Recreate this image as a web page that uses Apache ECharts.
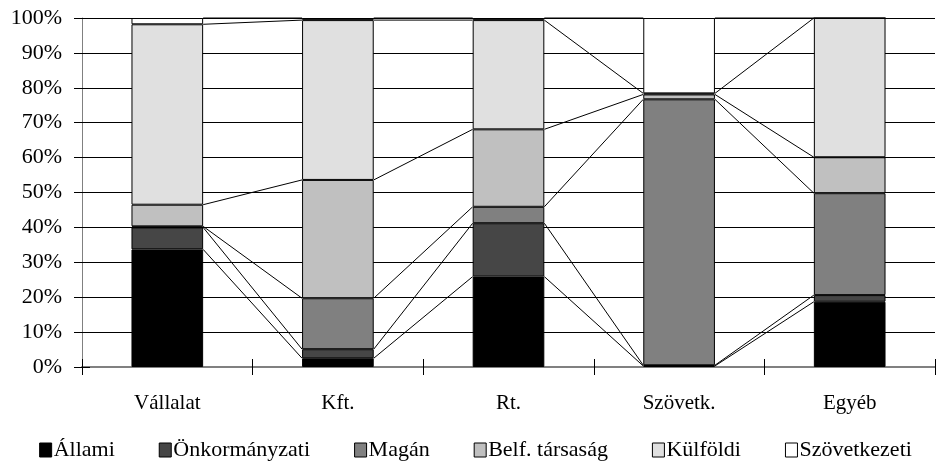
<!DOCTYPE html>
<html>
<head>
<meta charset="utf-8">
<script src="https://cdn.jsdelivr.net/npm/echarts@6/dist/echarts.min.js"></script>
<style>html,body{margin:0;padding:0;background:#fff}#c{width:951px;height:470px}</style>
</head>
<body>
<div id="c"></div>
<script>
var categories = ['Vállalat', 'Kft.', 'Rt.', 'Szövetk.', 'Egyéb'];
var seriesNames = ['Állami', 'Önkormányzati', 'Magán', 'Belf. társaság', 'Külföldi', 'Szövetkezeti'];
var allami = [33.7, 2.5, 25.9, 0.3, 18.7];
var onkormanyzati = [6.3, 2.6, 15.3, 0.2, 1.9];
var magan = [0.3, 14.6, 4.7, 76.2, 29.2];
var belf = [6.2, 33.9, 22.2, 1.4, 10.3];
var kulfoldi = [51.7, 45.8, 31.3, 0.3, 39.9];
var szovetkezeti = [1.8, 0.6, 0.6, 21.6, 0.0];
var yTicks = [0, 10, 20, 30, 40, 50, 60, 70, 80, 90, 100];
var colors = ['#000000', '#464646', '#808080', '#c0c0c0', '#e0e0e0', '#ffffff'];

var allSeries = [allami, onkormanyzati, magan, belf, kulfoldi, szovetkezeti];
var FONT = 'Liberation Serif';
var BAR_RATIO = 0.42;

// cumulative tops
var cum = allSeries.map(function () { return []; });
for (var c = 0; c < categories.length; c++) {
  var s = 0;
  for (var k = 0; k < allSeries.length; k++) {
    s += allSeries[k][c];
    cum[k][c] = s;
  }
}
var lineData = [];
for (var k = 0; k < allSeries.length; k++) {
  for (var c = 0; c < categories.length - 1; c++) {
    lineData.push([c, cum[k][c], cum[k][c + 1]]);
  }
}

var series = allSeries.map(function (arr, i) {
  return {
    name: seriesNames[i],
    type: 'bar',
    stack: 'total',
    barWidth: (BAR_RATIO * 100) + '%',
    data: arr,
    itemStyle: { color: colors[i], borderColor: '#000', borderWidth: 1 },
    emphasis: { disabled: true },
    z: 2
  };
});
series.push({
  type: 'custom',
  name: 'serieslines',
  data: lineData,
  z: 3,
  silent: true,
  renderItem: function (params, api) {
    var i = api.value(0);
    var p1 = api.coord([i, api.value(1)]);
    var p2 = api.coord([i + 1, api.value(2)]);
    var half = api.size([1, 0])[0] * BAR_RATIO / 2;
    return {
      type: 'line',
      shape: { x1: p1[0] + half, y1: p1[1], x2: p2[0] - half, y2: p2[1] },
      style: { stroke: '#000', lineWidth: 1 }
    };
  }
});

var chart = echarts.init(document.getElementById('c'), null, { renderer: 'canvas' });
chart.setOption({
  animation: false,
  backgroundColor: '#fff',
  grid: { left: 82, right: 16, top: 18, bottom: 103 },
  legend: {
    data: seriesNames,
    bottom: 4,
    left: 'center',
    icon: 'rect',
    itemWidth: 12,
    itemHeight: 14,
    itemGap: 44,
    itemStyle: { borderColor: '#000', borderWidth: 1 },
    textStyle: { fontFamily: FONT, fontSize: 22, color: '#000', padding: [0, 0, 0, -3] }
  },
  xAxis: [{
    type: 'category',
    data: categories,
    axisLine: { lineStyle: { color: '#808080', width: 2 } },
    axisTick: { show: true, length: 8, lineStyle: { color: '#000' } },
    axisLabel: { fontFamily: FONT, fontSize: 21, color: '#000', margin: 26 }
  }, {
    type: 'category',
    position: 'bottom',
    data: categories,
    axisLine: { show: false },
    axisTick: { show: true, inside: true, length: 8, lineStyle: { color: '#000' } },
    axisLabel: { show: false }
  }],
  yAxis: [{
    type: 'value',
    min: 0,
    max: 100,
    interval: 10,
    axisLine: { show: true, lineStyle: { color: '#808080', width: 1 } },
    axisTick: { show: true, length: 8, lineStyle: { color: '#000' } },
    splitLine: { lineStyle: { color: '#000', width: 1 } },
    axisLabel: {
      fontFamily: FONT, fontSize: 22, color: '#000', margin: 20,
      formatter: function (v) { return yTicks.indexOf(v) >= 0 ? v + '%' : ''; }
    }
  }, {
    type: 'value',
    position: 'left',
    min: 0,
    max: 100,
    interval: 10,
    axisLine: { show: false },
    axisTick: { show: true, inside: true, length: 8, lineStyle: { color: '#000' } },
    splitLine: { show: false },
    axisLabel: { show: false }
  }],
  series: series
});
</script>
</body>
</html>
